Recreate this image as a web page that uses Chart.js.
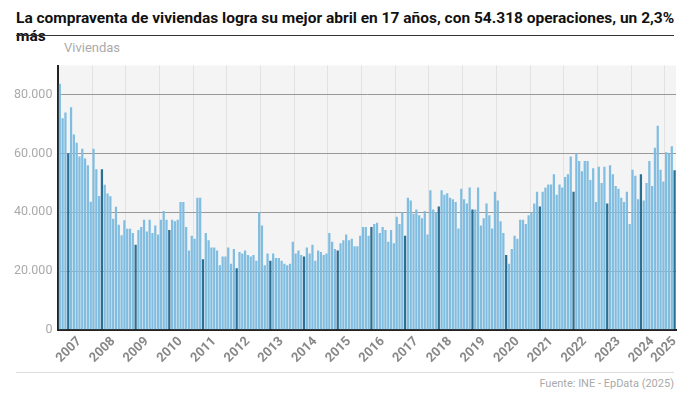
<!DOCTYPE html>
<html lang="es">
<head>
<meta charset="UTF-8">
<script src="https://cdn.jsdelivr.net/npm/chart.js"></script>
<style>
  body { margin: 0; width: 690px; height: 400px; font-family: Roboto, sans-serif; background: #fff; position: relative; }
  h1 { position: absolute; left: 16px; top: 9px; margin: 0; font-size: 15.5px; font-weight: bold; color: #111; }
  .rule { position: absolute; left: 16px; right: 16px; height: 1px; background: #333; }
  .unit { position: absolute; left: 64px; top: 40px; font-size: 13px; color: #aaa; }
  .src { position: absolute; right: 16px; top: 377px; font-size: 11px; color: #aaa; }
  #wrap { position: absolute; left: 0; top: 52px; width: 690px; height: 318px; }
</style>
</head>
<body>
<h1>La compraventa de viviendas logra su mejor abril en 17 años, con 54.318 operaciones, un 2,3% más</h1>
<div class="rule" style="top:35px"></div>
<div class="unit">Viviendas</div>
<div id="wrap"><canvas id="c"></canvas></div>
<div class="rule" style="top:372px;background:#ddd"></div>
<div class="src">Fuente: INE - EpData (2025)</div>
<script>
const years = [2007,2008,2009,2010,2011,2012,2013,2014,2015,2016,2017,2018,2019,2020,2021,2022,2023,2024,2025];
// monthly sales, thousands, one row per year
const sales = [
  [83.8,72,74,60,75.8,66.5,63.7,59,61.7,58.3,56,43.6],
  [61.7,54.7,45.6,54.7,49.4,46.4,45.5,37.8,41.9,35.8,32.2,37.3],
  [34.4,34.4,33,29,34,35,37.5,33.5,37.5,33,35.5,32.5],
  [37.5,40.5,37.5,34,37.5,37,37.5,43.5,43.5,35,27,32],
  [31,45,45,24,33,30.5,28,28,27,22,25,25],
  [28,22.5,27.5,21,26.5,26,27,25.5,25,25.5,23.5,40],
  [35.5,22,26,23.5,26,24.5,24.5,23.5,22.5,22,22.5,30],
  [26,27,25.5,25,28,26,29,23.5,27,26.5,25.5,26],
  [33,30,27.5,27,29.5,30.5,32.5,30.5,31,28.5,28.5,32],
  [35,35,32,35,36,36.5,33,35,34,30,34,29.5],
  [38.5,36,40,32,45,44,39.5,41,39,38,40.5,32.5],
  [47.5,41,40,42,47.5,46,46.5,45,44.5,43.5,34.5,48],
  [44.5,43,48.5,41,41,48.5,35.5,38,43,39,34.5,47],
  [44,37,33,25.5,22.5,27.5,32,31,37.5,37.5,36,39],
  [40,43,47,42,47,48.5,49.5,49.5,53,46,49.5,48.5],
  [52,53,59,47,60,57.5,54,57.5,57.5,51,55,43.5],
  [55.5,50,55.5,43,56,53,49,48,45,43.5,47,36],
  [54.5,52.5,44.5,53,44,50,57.5,49,62,69.5,54.5,50.5],
  [60.5,60,62.5,54.318]
];
const highlightMonth = 3; // abril

const labels = [], values = [], colors = [];
years.forEach((y, i) => sales[i].forEach((v, m) => {
  labels.push(y + '-' + (m + 1));
  values.push(Math.round(v * 1000));
  colors.push(m === highlightMonth ? '#2b6f92' : '#80bde0');
}));
const last = values.length - 1;

const bgPlugin = {
  id: 'bg',
  beforeDraw(ch) {
    const a = ch.chartArea, c = ch.ctx;
    c.save(); c.fillStyle = '#f4f4f4';
    c.fillRect(a.left, a.top, a.right - a.left, a.bottom - a.top);
    c.restore();
  }
};

new Chart(document.getElementById('c'), {
  type: 'bar',
  data: { labels, datasets: [{ data: values, backgroundColor: colors, barPercentage: 0.8, categoryPercentage: 1 }] },
  plugins: [bgPlugin],
  options: {
    responsive: true, maintainAspectRatio: false, animation: false,
    layout: { padding: { top: 6, right: 14, left: 8 } },
    plugins: { legend: { display: false }, tooltip: { enabled: false } },
    scales: {
      x: {
        grid: { color: ctx => ctx.index % 12 === 0 ? '#e2e2e2' : 'transparent', drawTicks: false },
        border: { color: '#222', width: 2 },
        ticks: {
          autoSkip: false, maxRotation: 45, minRotation: 45, padding: 4,
          color: '#888', font: { size: 13, weight: 'bold', family: 'Roboto' },
          callback: (v, i) => (i % 12 === 7 || i === last) ? labels[i].split('-')[0] : ''
        }
      },
      y: {
        min: 0, max: 90000,
        afterBuildTicks: s => { s.ticks = [0,20000,40000,60000,80000].map(v => ({ value: v })); },
        grid: { color: ctx => ctx.tick.value === 0 ? 'transparent' : '#999', drawTicks: false },
        border: { color: '#222', width: 2 },
        ticks: {
          padding: 6, color: '#aaa', font: { size: 12.5, family: 'Roboto' },
          callback: v => v.toLocaleString('de-DE')
        }
      }
    }
  }
});
</script>
</body>
</html>
